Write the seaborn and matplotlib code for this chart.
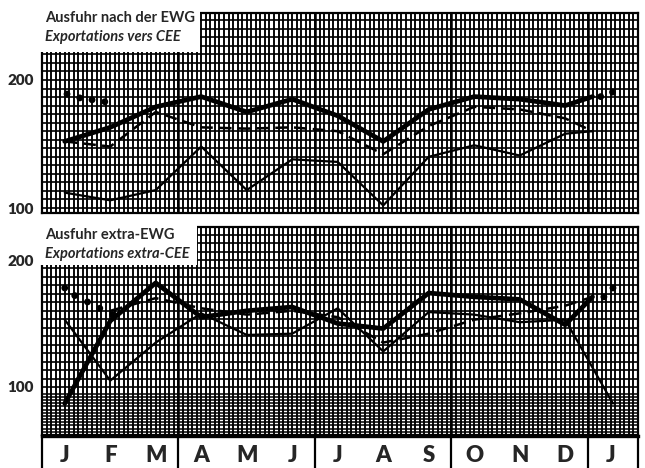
"""Monthly export indices, EWG / extra-EWG, on dense chart-paper grid."""

import matplotlib
matplotlib.use("Agg")
import matplotlib.pyplot as plt
from matplotlib.patches import Rectangle
import numpy as np
import seaborn as sns

sns.set_theme(style="white")
plt.rcParams["font.family"] = ["Lato", "DejaVu Sans"]

# ------------------------------------------------------------------ data
MONTHS = ["J", "F", "M", "A", "M", "J", "J", "A", "S", "O", "N", "D", "J"]
MONTH_POS = list(range(13))
LINE_X = [0, 1, 2, 3, 4, 5, 6, 7, 8, 9, 10, 11, 11.6]

# Ausfuhr nach der EWG
ewg_thick = [152, 163, 179, 187, 175, 185, 172, 152, 177, 187, 185, 180, 187]
ewg_dash = [152, 148, 175, 163, 162, 163, 160, 142, 164, 179, 177, 170, 160]
ewg_thin = [112, 106, 114, 148, 114, 138, 136, 102, 140, 149, 141, 158, 160]
ewg_dots_x = [0.05, 0.33, 0.6, 0.88, 11.78, 12.04]
ewg_dots_y = [189, 186, 184.5, 183, 187, 190.5]

# Ausfuhr extra-EWG
ext_thick = [87, 152, 182, 155, 160, 163, 150, 146, 174, 171, 169, 149, 171]
ext_dash_x = [1, 2, 3, 4, 5, 6, 7, 8, 9, 10, 11, 11.6]
ext_dash = [160, 170, 162, 157, 160, 155, 135, 142, 153, 158, 164, 171]
ext_thin_x = [0, 1, 2, 3, 4, 5, 6, 7, 8, 9, 10, 11, 12.05]
ext_thin = [153, 105, 135, 158, 141, 142, 162, 128, 159, 157, 151, 153, 87]
ext_dots_x = [0.0, 0.22, 0.5, 0.77, 1.05, 11.85, 12.05]
ext_dots_y = [178, 172, 167, 162, 157, 171, 178]

W, H = 645, 468
fig = plt.figure(figsize=(W / 100, H / 100), dpi=100)
XLIM = (-0.5, 12.6)


def px_axes(x0, y0, x1, y1):
    return fig.add_axes([x0 / W, 1 - y1 / H, (x1 - x0) / W, (y1 - y0) / H])


def paper(ax, ylim, dense_below=None):
    ax.set_xlim(*XLIM); ax.set_ylim(*ylim)
    ax.set_facecolor("white")
    ax.vlines(np.arange(-0.5, 12.61, 0.1), *ylim, color="black", lw=1.35, zorder=1)
    ax.vlines([2.5, 5.5, 8.5, 11.5], *ylim, color="black", lw=1.8, zorder=1)
    step = 100 / 15
    hl = np.arange(100 - 6 * step, ylim[1], step)
    if dense_below is not None:
        hl = hl[hl > dense_below]
        ax.hlines(np.arange(ylim[0], dense_below, 2.5), *XLIM, color="black", lw=1.1, zorder=1)
    ax.hlines(hl, *XLIM, color="black", lw=1.2, zorder=1)
    ax.set_xticks([])
    ax.set_yticks([100, 200])
    ax.set_yticklabels(["100", "200"], fontsize=11, fontweight="heavy")
    ax.tick_params(axis="y", length=0, pad=6)
    for s in ax.spines.values():
        s.set_color("black"); s.set_linewidth(1.6)


def series(ax, x, y, lw, ls="-"):
    sns.lineplot(x=x, y=y, ax=ax, color="black", linewidth=lw, linestyle=ls,
                 estimator=None, sort=False, zorder=4)


def title_box(ax, x1, y1):
    ax.add_patch(Rectangle((-0.01, y1), x1 + 0.01, 1.01 - y1, transform=ax.transAxes,
                           facecolor="white", edgecolor="none", clip_on=False, zorder=3))


# top panel ------------------------------------------------------------------
ax1 = px_axes(42, 13, 638, 213)
paper(ax1, (96.1, 252.3))
series(ax1, LINE_X, ewg_thin, 1.6)
series(ax1, LINE_X, ewg_dash, 1.8, (0, (5, 2.5)))
series(ax1, LINE_X, ewg_thick, 3.4)
sns.scatterplot(x=ewg_dots_x, y=ewg_dots_y, ax=ax1, color="black", s=24,
                edgecolor="none", zorder=5)
title_box(ax1, 0.265, 0.805)

# bottom panel ---------------------------------------------------------------
ax2 = px_axes(42, 227, 638, 435)
paper(ax2, (62.2, 226), dense_below=95)
series(ax2, ext_thin_x, ext_thin, 1.6)
series(ax2, ext_dash_x, ext_dash, 1.8, (0, (5, 2.5)))
series(ax2, LINE_X, ext_thick, 3.4)
sns.scatterplot(x=ext_dots_x, y=ext_dots_y, ax=ax2, color="black", s=24,
                edgecolor="none", zorder=5)
title_box(ax2, 0.26, 0.817)

# month strip ----------------------------------------------------------------
ax3 = px_axes(42, 436, 638, 470)
ax3.set_xlim(*XLIM); ax3.set_ylim(0, 1)
ax3.set_xticks([]); ax3.set_yticks([])
ax3.spines["bottom"].set_visible(False)
ax3.spines["top"].set_linewidth(2.4)
for s in ("left", "right"):
    ax3.spines[s].set_linewidth(1.6)
for s in ax3.spines.values():
    s.set_color("black")
ax3.vlines([2.5, 5.5, 8.5, 11.5], 0, 1, color="black", lw=1.6)
for xp, m in zip(MONTH_POS, MONTHS):
    ax3.text(xp, 0.42, m, ha="center", va="center", fontsize=16, fontweight="heavy")

# titles ---------------------------------------------------------------------
fig.text(45 / W, 1 - 18 / H, "Ausfuhr nach der EWG", fontsize=10.5, fontweight="bold",
         va="center", ha="left")
fig.text(45 / W, 1 - 37 / H, "Exportations vers CEE", fontsize=10.5, fontweight="bold",
         style="italic", va="center", ha="left")
fig.text(45 / W, 1 - 235 / H, "Ausfuhr extra-EWG", fontsize=10.5, fontweight="bold",
         va="center", ha="left")
fig.text(45 / W, 1 - 254 / H, "Exportations extra-CEE", fontsize=10.5, fontweight="bold",
         style="italic", va="center", ha="left")

fig.savefig("out.png", dpi=100)
